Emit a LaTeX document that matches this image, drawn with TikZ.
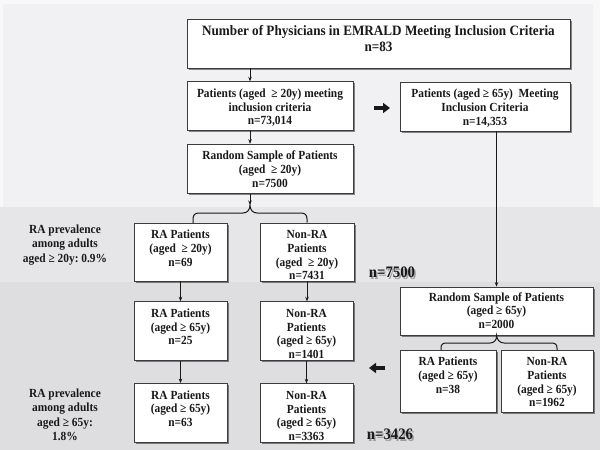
\documentclass[tikz,border=0pt]{standalone}
\usepackage{fontspec}
\setmainfont{Liberation Serif}
\newfontfamily\cond{Liberation Serif}[FakeStretch=0.92]
\usetikzlibrary{arrows.meta,shadows,calc}
\definecolor{bandA}{RGB}{241,241,243}
\definecolor{bandB}{RGB}{230,230,232}
\definecolor{bandC}{RGB}{222,222,225}
\definecolor{frameC}{RGB}{248,248,249}
\definecolor{edge}{RGB}{60,60,60}
\definecolor{ink}{RGB}{25,25,25}
\newcommand\bt[4][15.5pt]{\parbox[c][#3][t]{#2}{\centering\rule{0pt}{#1}#4}}
\frenchspacing
\begin{document}
\begin{tikzpicture}[x=1pt,y=-1pt,
  box/.style={draw=edge, line width=0.8pt, fill=white, inner sep=0pt, text=ink,
    font=\cond\bfseries\fontsize{12.4}{13.8}\selectfont,
    drop shadow={shadow xshift=1.6pt, shadow yshift=-1.6pt, fill=black, opacity=0.45}},
  lab/.style={align=center, text=ink, inner sep=0pt, font=\cond\bfseries\fontsize{12.4}{14.2}\selectfont},
  bignum/.style={text=ink, inner sep=0pt, font=\cond\bfseries\fontsize{16}{18}\selectfont},
  numshadow/.style={text=black, opacity=0.3, inner sep=0pt, font=\cond\bfseries\fontsize{16}{18}\selectfont},
  conn/.style={draw=ink, line width=0.8pt, -{Stealth[length=4.5pt,width=3.5pt]}},
  brace/.style={draw=ink, line width=1pt},
  blockarrow/.style={draw=ink, line width=3.6pt, -{Triangle[length=7pt,width=10pt]}}]
% background
\fill[frameC] (0,0) rectangle (600,450);
\fill[bandA] (3,4) rectangle (593,207);
\fill[bandB] (0,207) rectangle (600,282);
\fill[bandC] (0,282) rectangle (600,450);
\useasboundingbox (0,0) rectangle (600,450);
% boxes
\node[box] (A) at (378.5,43.5) {\parbox[c][49pt][t]{383pt}{\centering\fontsize{14.3}{16}\selectfont\rule{0pt}{16.5pt}Number of Physicians in EMRALD Meeting Inclusion Criteria\\n=83}};
\node[box] (B) at (270,106.2) {\bt{166pt}{49pt}{Patients (aged\ \ ≥ 20y) meeting\\inclusion criteria\\n=73,014}};
\node[box] (C) at (485,106.5) {\bt{170pt}{49pt}{Patients (aged ≥ 65y)\ \ Meeting\\Inclusion Criteria\\n=14,353}};
\node[box] (D) at (270,168.7) {\bt{166pt}{49pt}{Random Sample of Patients\\(aged\ \ ≥ 20y)\\n=7500}};
\node[box] (E) at (180.5,252) {\bt{93pt}{58pt}{RA Patients\\(aged\ \ ≥ 20y)\\n=69}};
\node[box] (F) at (307,252) {\bt{94pt}{58pt}{Non-RA\\Patients\\(aged\ \ ≥ 20y)\\n=7431}};
\node[box] (G) at (180.5,331.2) {\bt{93pt}{59pt}{RA Patients\\(aged ≥ 65y)\\n=25}};
\node[box] (I) at (306.5,331.2) {\bt{93pt}{59pt}{Non-RA\\Patients\\(aged ≥ 65y)\\n=1401}};
\node[box] (H) at (180.5,413) {\bt{93pt}{59pt}{RA Patients\\(aged ≥ 65y)\\n=63}};
\node[box] (J) at (306.5,413.3) {\bt{93pt}{59pt}{Non-RA\\Patients\\(aged ≥ 65y)\\n=3363}};
\node[box] (K) at (496.5,311) {\bt[14pt]{193pt}{48pt}{Random Sample of Patients\\(aged ≥ 65y)\\n=2000}};
\node[box] (L) at (448,381) {\bt{96pt}{62pt}{RA Patients\\(aged ≥ 65y)\\n=38}};
\node[box] (M) at (547,381) {\bt{92pt}{62pt}{Non-RA\\Patients\\(aged ≥ 65y)\\n=1962}};
% side labels
\node[lab] (P1) at (65,245) {RA prevalence\\among adults\\aged ≥ 20y: 0.9\%};
\node[lab] (P2) at (65,414.7) {RA prevalence\\among adults\\aged ≥ 65y:\\1.8\%};
% big totals
\node[numshadow] at (393.5,274) {n=7500};
\node[bignum] (T1) at (392,272.5) {n=7500};
\node[numshadow] at (391.5,436) {n=3426};
\node[bignum] (T2) at (390,434.5) {n=3426};
% connectors
\coordinate (c1) at (250,205);
\draw[conn] (A.south -| c1) -- (B.north -| c1);
\draw[conn] (B.south -| c1) -- (D.north -| c1);
\draw[conn] (D.south -| c1) -- (c1);
\draw[brace] (193,223) -- (193,219) .. controls (193,215) and (195,213) .. (199,213) -- (243,213) .. controls (247,213) and (250,210) .. (c1) .. controls (250,210) and (253,213) .. (257,213) -- (301,213) .. controls (305,213) and (307,215) .. (307,219) -- (F.north);
\draw[conn] (E.south) -- (G.north);
\draw[conn] (F.south) -- (F.south |- I.north);
\draw[conn] (G.south) -- (H.north);
\draw[conn] (I.south) -- (J.north);
\draw[conn] (C.south -| K.north) -- (K.north);
\draw[brace] (441,350) -- (441,348) .. controls (441,344) and (443,343) .. (447,343) -- (490,343) .. controls (494,343) and (497,340) .. (K.south) .. controls (497,340) and (500,343) .. (504,343) -- (551,343) .. controls (555,343) and (557,344) .. (557,348) -- (557,350);
% block arrows
\coordinate (r1) at (374,108);
\coordinate (r2) at (390,108);
\draw[blockarrow] (r1) -- (r2);
\coordinate (l1) at (385,368);
\coordinate (l2) at (369,368);
\draw[blockarrow] (l1) -- (l2);
\end{tikzpicture}
\end{document}
